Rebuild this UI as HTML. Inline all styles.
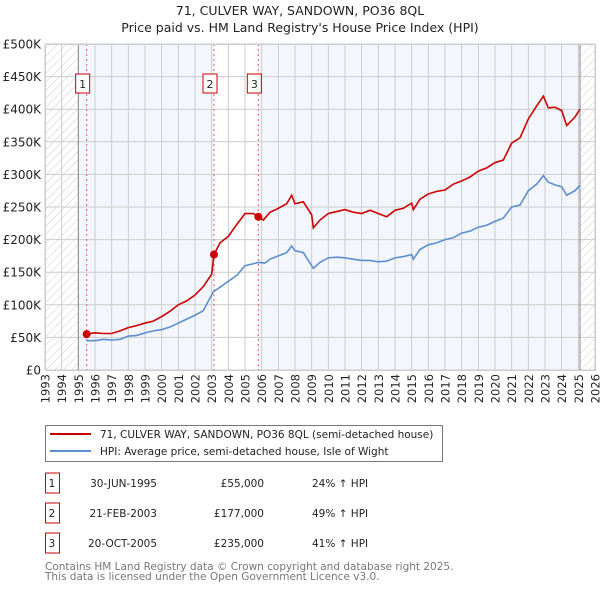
<!DOCTYPE html>
<html><head><meta charset="utf-8"><style>
body{margin:0;background:#fff;}
svg{display:block;font-family:"DejaVu Sans","Liberation Sans",sans-serif;}
</style></head><body>
<svg id="c" width="600" height="590" viewBox="0 0 600 590" xmlns="http://www.w3.org/2000/svg">
<defs>
<pattern id="hatch" width="6" height="6" patternUnits="userSpaceOnUse" patternTransform="rotate(45)">
<line x1="0" y1="0" x2="0" y2="6" stroke="#ccc" stroke-width="1"/>
</pattern>
</defs>
<text x="300" y="15" text-anchor="middle" font-size="12.5" fill="#222">71, CULVER WAY, SANDOWN, PO36 8QL</text>
<text x="300" y="32" text-anchor="middle" font-size="12.5" fill="#222">Price paid vs. HM Land Registry's House Price Index (HPI)</text>
<g id="plot"></g>
<g>
<rect x="45.5" y="425.5" width="397" height="36" fill="#fff" stroke="#777"/>
<line x1="50" y1="434" x2="91" y2="434" stroke="#cc0000" stroke-width="2"/>
<text x="100" y="438" font-size="10.5" fill="#222">71, CULVER WAY, SANDOWN, PO36 8QL (semi-detached house)</text>
<line x1="50" y1="451" x2="91" y2="451" stroke="#5b8fd0" stroke-width="2"/>
<text x="100" y="455" font-size="10.5" fill="#222">HPI: Average price, semi-detached house, Isle of Wight</text>
</g>
<g id="table" font-size="10.5" fill="#222"></g>
<text x="45" y="570" font-size="10.5" fill="#777">Contains HM Land Registry data © Crown copyright and database right 2025.</text>
<text x="45" y="580" font-size="10.5" fill="#777">This data is licensed under the Open Government Licence v3.0.</text>
</svg>
<script>
const yTicks=[0,50000,100000,150000,200000,250000,300000,350000,400000,450000,500000];
const yLabels=["£0","£50K","£100K","£150K","£200K","£250K","£300K","£350K","£400K","£450K","£500K"];
const years=[1993,1994,1995,1996,1997,1998,1999,2000,2001,2002,2003,2004,2005,2006,2007,2008,2009,2010,2011,2012,2013,2014,2015,2016,2017,2018,2019,2020,2021,2022,2023,2024,2025,2026];
const hpiT=[1995.5,1996,1996.5,1997,1997.5,1998,1998.5,1999,1999.5,2000,2000.5,2001,2001.5,2002,2002.5,2003.1,2003.5,2004,2004.5,2005,2005.5,2005.8,2006.2,2006.5,2007,2007.5,2007.8,2008,2008.5,2009.1,2009.5,2010,2010.5,2011,2011.5,2012,2012.5,2013,2013.5,2014,2014.5,2015,2015.1,2015.5,2016,2016.5,2017,2017.5,2018,2018.5,2019,2019.5,2020,2020.5,2021,2021.5,2022,2022.5,2022.9,2023.2,2023.6,2024,2024.3,2024.8,2025.1];
const hpiV=[45000,45000,47000,46000,47000,52000,53000,57000,60000,62000,66000,72000,78000,84000,91000,120000,127000,136000,145000,160000,163000,165000,164000,170000,175000,180000,190000,183000,180000,156000,165000,172000,173000,172000,170000,168000,168000,166000,167000,172000,174000,177000,170000,185000,192000,195000,200000,203000,210000,213000,219000,222000,228000,233000,250000,253000,275000,285000,298000,288000,284000,281000,268000,275000,283000];
const saleT=[1995.5,1996,1996.5,1997,1997.5,1998,1998.5,1999,1999.5,2000,2000.5,2001,2001.5,2002,2002.5,2003.0,2003.14,2003.5,2004,2004.5,2005,2005.5,2005.8,2006.1,2006.5,2007,2007.5,2007.8,2008,2008.5,2009.0,2009.1,2009.5,2010,2010.5,2011,2011.5,2012,2012.5,2013,2013.5,2014,2014.5,2015,2015.1,2015.5,2016,2016.5,2017,2017.5,2018,2018.5,2019,2019.5,2020,2020.5,2021,2021.5,2022,2022.5,2022.9,2023.2,2023.6,2024,2024.3,2024.8,2025.1];
const saleV=[55000,57000,56000,56000,60000,65000,68000,72000,75000,82000,90000,100000,106000,115000,128000,147000,177000,195000,205000,223000,240000,240000,235000,230000,242000,248000,255000,268000,255000,258000,238000,218000,230000,240000,243000,246000,242000,240000,245000,240000,235000,245000,248000,256000,246000,262000,270000,274000,276000,285000,290000,296000,305000,310000,318000,322000,348000,356000,385000,405000,420000,402000,403000,398000,375000,388000,400000];
const salesX=[1995.5,2003.14,2005.8];
const salesY=[55000,177000,235000];
const salesDate=["30-JUN-1995","21-FEB-2003","20-OCT-2005"];
const salesPrice=["£55,000","£177,000","£235,000"];
const salesHpi=["24% ↑ HPI","49% ↑ HPI","41% ↑ HPI"];

const X0=45,X1=595,Y0=370,Y1=44;
const xs=t=>X0+(t-1993)/(2026-1993)*(X1-X0);
const ys=v=>Y0-v/500000*(Y0-Y1);
const NS="http://www.w3.org/2000/svg";
const plot=document.getElementById('plot');
function mk(tag,attrs,parent){const e=document.createElementNS(NS,tag);for(const k in attrs)e.setAttribute(k,attrs[k]);(parent||plot).appendChild(e);return e;}

let r=mk('rect',{x:X0,y:Y1,width:X1-X0,height:Y0-Y1,fill:'#fff'});


r=mk('rect',{x:xs(1995),y:Y1,width:xs(salesX[1])-xs(1995),height:Y0-Y1,fill:'#f3f6fd'});


r=mk('rect',{x:xs(salesX[2]),y:Y1,width:xs(2025.1)-xs(salesX[2]),height:Y0-Y1,fill:'#f3f6fd'});


r=mk('rect',{x:X0,y:Y1,width:xs(1995)-X0,height:Y0-Y1,fill:'url(#hatch)'});


r=mk('rect',{x:xs(2025.1),y:Y1,width:X1-xs(2025.1),height:Y0-Y1,fill:'url(#hatch)'});



yTicks.forEach((v,i)=>{
  const l=mk('line',{x1:X0,x2:X1,y1:ys(v),y2:ys(v),stroke:'#ccc','stroke-width':1});
  
  
  const t=mk('text',{x:X0-4,y:ys(v)+4.5,'text-anchor':'end','font-size':12,fill:'#222'});
  
  
  t.textContent=yLabels[i];
});
years.forEach(yr=>{
  const x=xs(yr);
  const l=mk('line',{x1:x,x2:x,y1:Y1,y2:Y0,stroke:'#ccc','stroke-width':1});
  
  
  const t=mk('text',{x:0,y:0,'text-anchor':'end','font-size':11.5,fill:'#222',transform:`translate(${x+4.5},374) rotate(-90)`});
  
  
  t.textContent=yr;
});
[1995,2025.1].forEach(yr=>{
  const l=mk('line',{x1:xs(yr),x2:xs(yr),y1:Y1,y2:Y0,stroke:'#888','stroke-width':1});
  
  
});
salesX.forEach((t,i)=>{
  const l=mk('line',{x1:xs(t),x2:xs(t),y1:Y1,y2:Y0,stroke:'#e06060','stroke-width':1,'stroke-dasharray':'2,3'});
  
  
  const b=mk('rect',{x:xs(t)-11,y:74,width:14,height:19,fill:'#fff',stroke:'#cc0000','stroke-width':1});
  
  
  const tx=mk('text',{x:xs(t)-4,y:88,'text-anchor':'middle','font-size':11,fill:'#222'});
  
  
  tx.textContent=i+1;
});
const hp=mk('polyline',{points:hpiT.map((t,i)=>xs(t)+','+ys(hpiV[i])).join(' '),fill:'none',stroke:'#5b8fd0','stroke-width':1.6});


const sp=mk('polyline',{points:saleT.map((t,i)=>xs(t)+','+ys(saleV[i])).join(' '),fill:'none',stroke:'#cc0000','stroke-width':1.6});


salesX.forEach((t,i)=>{
  const c=mk('circle',{cx:xs(t),cy:ys(salesY[i]),r:4,fill:'#cc0000'});
  
  
});
const pf=mk('rect',{x:X0+0.5,y:Y1+0.5,width:X1-X0,height:Y0-Y1,fill:'none',stroke:'#ccc'});



const tb=document.getElementById('table');
salesDate.forEach((d,i)=>{
  const cy=483+i*30;
  const b=mk('rect',{x:45.5,y:cy-10,width:14,height:20,fill:'#fff',stroke:'#cc0000'},tb);
  
  
  const cols=[[52,'middle',String(i+1)],[157,'end',d],[264,'end',salesPrice[i]],[312,'start',salesHpi[i]]];
  cols.forEach(([x,a,s],j)=>{
    const t=mk('text',{x:x,y:cy+4,'text-anchor':a},tb);
    
    
    t.textContent=s;
  });
});
</script>
</body></html>
